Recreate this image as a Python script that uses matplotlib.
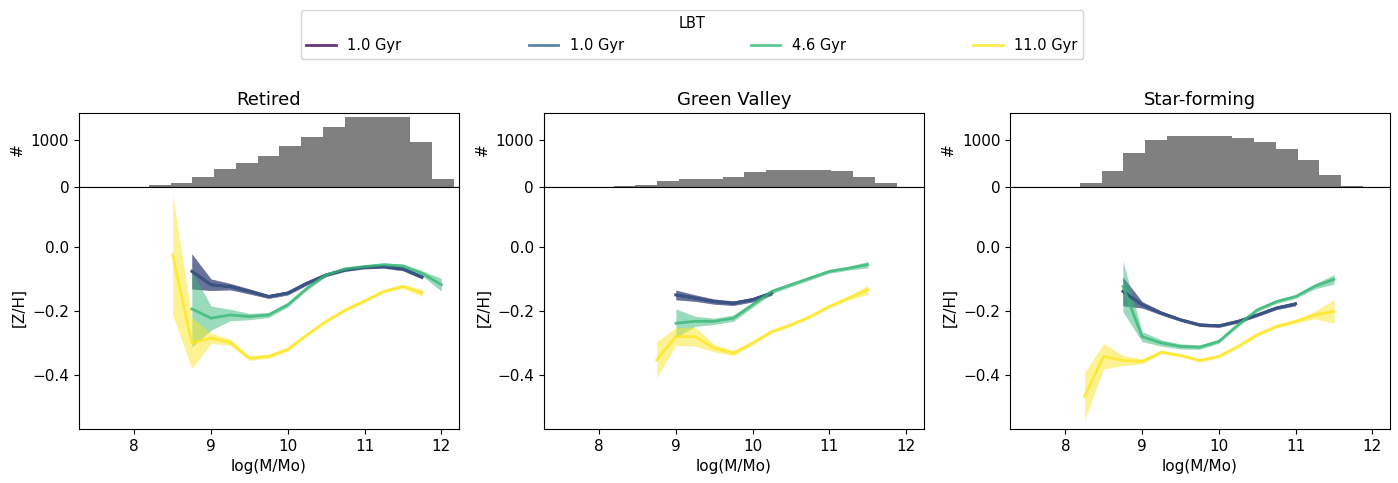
import numpy as np
import matplotlib
matplotlib.use("Agg")
from matplotlib import pyplot as plt

# histogram bins (log mass) and counts per class
edges = np.linspace(8.19, 12.16, 15)
hist_ret = [50, 95, 215, 390, 515, 650, 870, 1055, 1270, 1480, 1490, 1480, 965, 170]
hist_gv = [20, 50, 135, 170, 170, 220, 315, 370, 370, 370, 345, 220, 85, 5]
hist_sf = [95, 350, 720, 1005, 1080, 1080, 1080, 1050, 965, 800, 580, 250, 20, 0]

labels = ['1.0 Gyr', '1.0 Gyr', '4.6 Gyr', '11.0 Gyr']
cols = [plt.cm.viridis(v) for v in [0.0, 0.33, 0.67, 1.0]]

## Retired ##
ret_x_blue = [8.75, 9.0, 9.25, 9.5, 9.75, 10.0, 10.25, 10.5, 10.75, 11.0, 11.25, 11.5, 11.75]
ret_blue = [-0.075, -0.117, -0.123, -0.138, -0.154, -0.143, -0.112, -0.086, -0.070, -0.062, -0.060, -0.067, -0.093]
ret_blue_e = [0.055, 0.018, 0.010, 0.008, 0.006, 0.006, 0.006, 0.005, 0.005, 0.005, 0.005, 0.006, 0.006]
ret_x_green = [8.75, 9.0, 9.25, 9.5, 9.75, 10.0, 10.25, 10.5, 10.75, 11.0, 11.25, 11.5, 11.75, 12.0]
ret_green = [-0.193, -0.222, -0.212, -0.217, -0.212, -0.180, -0.128, -0.086, -0.067, -0.060, -0.054, -0.058, -0.081, -0.117]
ret_green_e = [0.12, 0.038, 0.018, 0.010, 0.008, 0.007, 0.006, 0.005, 0.005, 0.005, 0.005, 0.006, 0.008, 0.020]
ret_x_yel = [8.5, 8.75, 9.0, 9.25, 9.5, 9.75, 10.0, 10.25, 10.5, 10.75, 11.0, 11.25, 11.5, 11.75]
ret_yel = [-0.023, -0.300, -0.285, -0.298, -0.348, -0.342, -0.320, -0.274, -0.232, -0.196, -0.168, -0.138, -0.122, -0.143]
ret_yel_e = [0.19, 0.08, 0.016, 0.010, 0.007, 0.006, 0.006, 0.005, 0.005, 0.005, 0.005, 0.005, 0.006, 0.011]

## Green Valley ##
gv_x_blue = [9.0, 9.25, 9.5, 9.75, 10.0, 10.25]
gv_blue = [-0.149, -0.159, -0.170, -0.175, -0.164, -0.143]
gv_blue_e = [0.015, 0.010, 0.008, 0.007, 0.007, 0.007]
gv_x_green = [9.0, 9.25, 9.5, 9.75, 10.0, 10.25, 10.5, 10.75, 11.0, 11.25, 11.5]
gv_green = [-0.238, -0.232, -0.232, -0.222, -0.180, -0.138, -0.117, -0.096, -0.075, -0.065, -0.054]
gv_green_e = [0.045, 0.016, 0.010, 0.010, 0.008, 0.007, 0.006, 0.006, 0.006, 0.006, 0.010]
gv_x_yel = [8.75, 9.0, 9.25, 9.5, 9.75, 10.0, 10.25, 10.5, 10.75, 11.0, 11.25, 11.5]
gv_yel = [-0.353, -0.280, -0.280, -0.316, -0.332, -0.300, -0.264, -0.243, -0.217, -0.185, -0.159, -0.133]
gv_yel_e = [0.057, 0.028, 0.030, 0.012, 0.008, 0.006, 0.005, 0.005, 0.005, 0.005, 0.006, 0.015]

## Star-forming ##
sf_x_blue = [8.75, 9.0, 9.25, 9.5, 9.75, 10.0, 10.25, 10.5, 10.75, 11.0]
sf_blue = [-0.138, -0.180, -0.206, -0.227, -0.243, -0.246, -0.232, -0.212, -0.190, -0.177]
sf_blue_e = [0.045, 0.010, 0.006, 0.005, 0.005, 0.005, 0.005, 0.005, 0.005, 0.006]
sf_x_green = [8.75, 9.0, 9.25, 9.5, 9.75, 10.0, 10.25, 10.5, 10.75, 11.0, 11.25, 11.5]
sf_green = [-0.122, -0.280, -0.300, -0.311, -0.313, -0.295, -0.243, -0.196, -0.170, -0.154, -0.122, -0.100]
sf_green_e = [0.08, 0.016, 0.010, 0.008, 0.007, 0.006, 0.006, 0.006, 0.006, 0.006, 0.008, 0.015]
sf_x_yel = [8.25, 8.5, 8.75, 9.0, 9.25, 9.5, 9.75, 10.0, 10.25, 10.5, 10.75, 11.0, 11.25, 11.5]
sf_yel = [-0.468, -0.342, -0.355, -0.358, -0.329, -0.339, -0.355, -0.342, -0.311, -0.274, -0.248, -0.232, -0.212, -0.201]
sf_yel_e = [0.075, 0.040, 0.016, 0.008, 0.005, 0.005, 0.005, 0.005, 0.005, 0.005, 0.005, 0.006, 0.012, 0.037]

panels = [
    ('Retired', hist_ret, [(ret_x_blue, ret_blue, ret_blue_e), (ret_x_blue, ret_blue, ret_blue_e),
                           (ret_x_green, ret_green, ret_green_e), (ret_x_yel, ret_yel, ret_yel_e)]),
    ('Green Valley', hist_gv, [(gv_x_blue, gv_blue, gv_blue_e), (gv_x_blue, gv_blue, gv_blue_e),
                               (gv_x_green, gv_green, gv_green_e), (gv_x_yel, gv_yel, gv_yel_e)]),
    ('Star-forming', hist_sf, [(sf_x_blue, sf_blue, sf_blue_e), (sf_x_blue, sf_blue, sf_blue_e),
                               (sf_x_green, sf_green, sf_green_e), (sf_x_yel, sf_yel, sf_yel_e)]),
]

fig = plt.figure(figsize=(13.98, 4.83), dpi=100)
lefts = [0.0565, 0.389, 0.7225]
w = 0.2718
centers = 0.5 * (edges[1:] + edges[:-1])

handles = []
for left, (title, counts, series) in zip(lefts, panels):
    axh = fig.add_axes([left, 0.6128, w, 0.1532])
    ax = fig.add_axes([left, 0.112, w, 0.5008], sharex=axh)
    axh.hist(centers, bins=edges, weights=counts, color='gray')
    axh.set_ylim(0, 1570)
    axh.set_yticks([0, 1000])
    axh.set_ylabel('#', fontsize=11)
    axh.set_title(title, fontsize=13)
    axh.tick_params(axis='x', bottom=False, labelbottom=False)
    axh.tick_params(labelsize=11)

    handles = []
    for c, lab, (x, y, e) in zip(cols, labels, series):
        x = np.array(x); y = np.array(y); e = np.array(e)
        h, = ax.plot(x, y, color=c, lw=2, alpha=0.8, label=lab)
        ax.fill_between(x, y - e, y + e, color=c, alpha=0.5, lw=0)
        handles.append(h)

    ax.set_xlim(7.28, 12.23)
    ax.set_ylim(-0.57, 0.19)
    ax.set_yticks([0.0, -0.2, -0.4])
    ax.set_xticks([8, 9, 10, 11, 12])
    ax.set_xlabel('log(M/Mo)', fontsize=11)
    ax.set_ylabel('[Z/H]', fontsize=11)
    ax.tick_params(labelsize=11)

fig.legend(handles, labels, title='LBT', ncol=4, mode='expand',
           bbox_to_anchor=(0.215, 0.878, 0.56, 0.111), loc='lower left',
           fontsize=10.5, title_fontsize=10.5, handlelength=2, borderaxespad=0)

plt.savefig('out.png', dpi=100)
